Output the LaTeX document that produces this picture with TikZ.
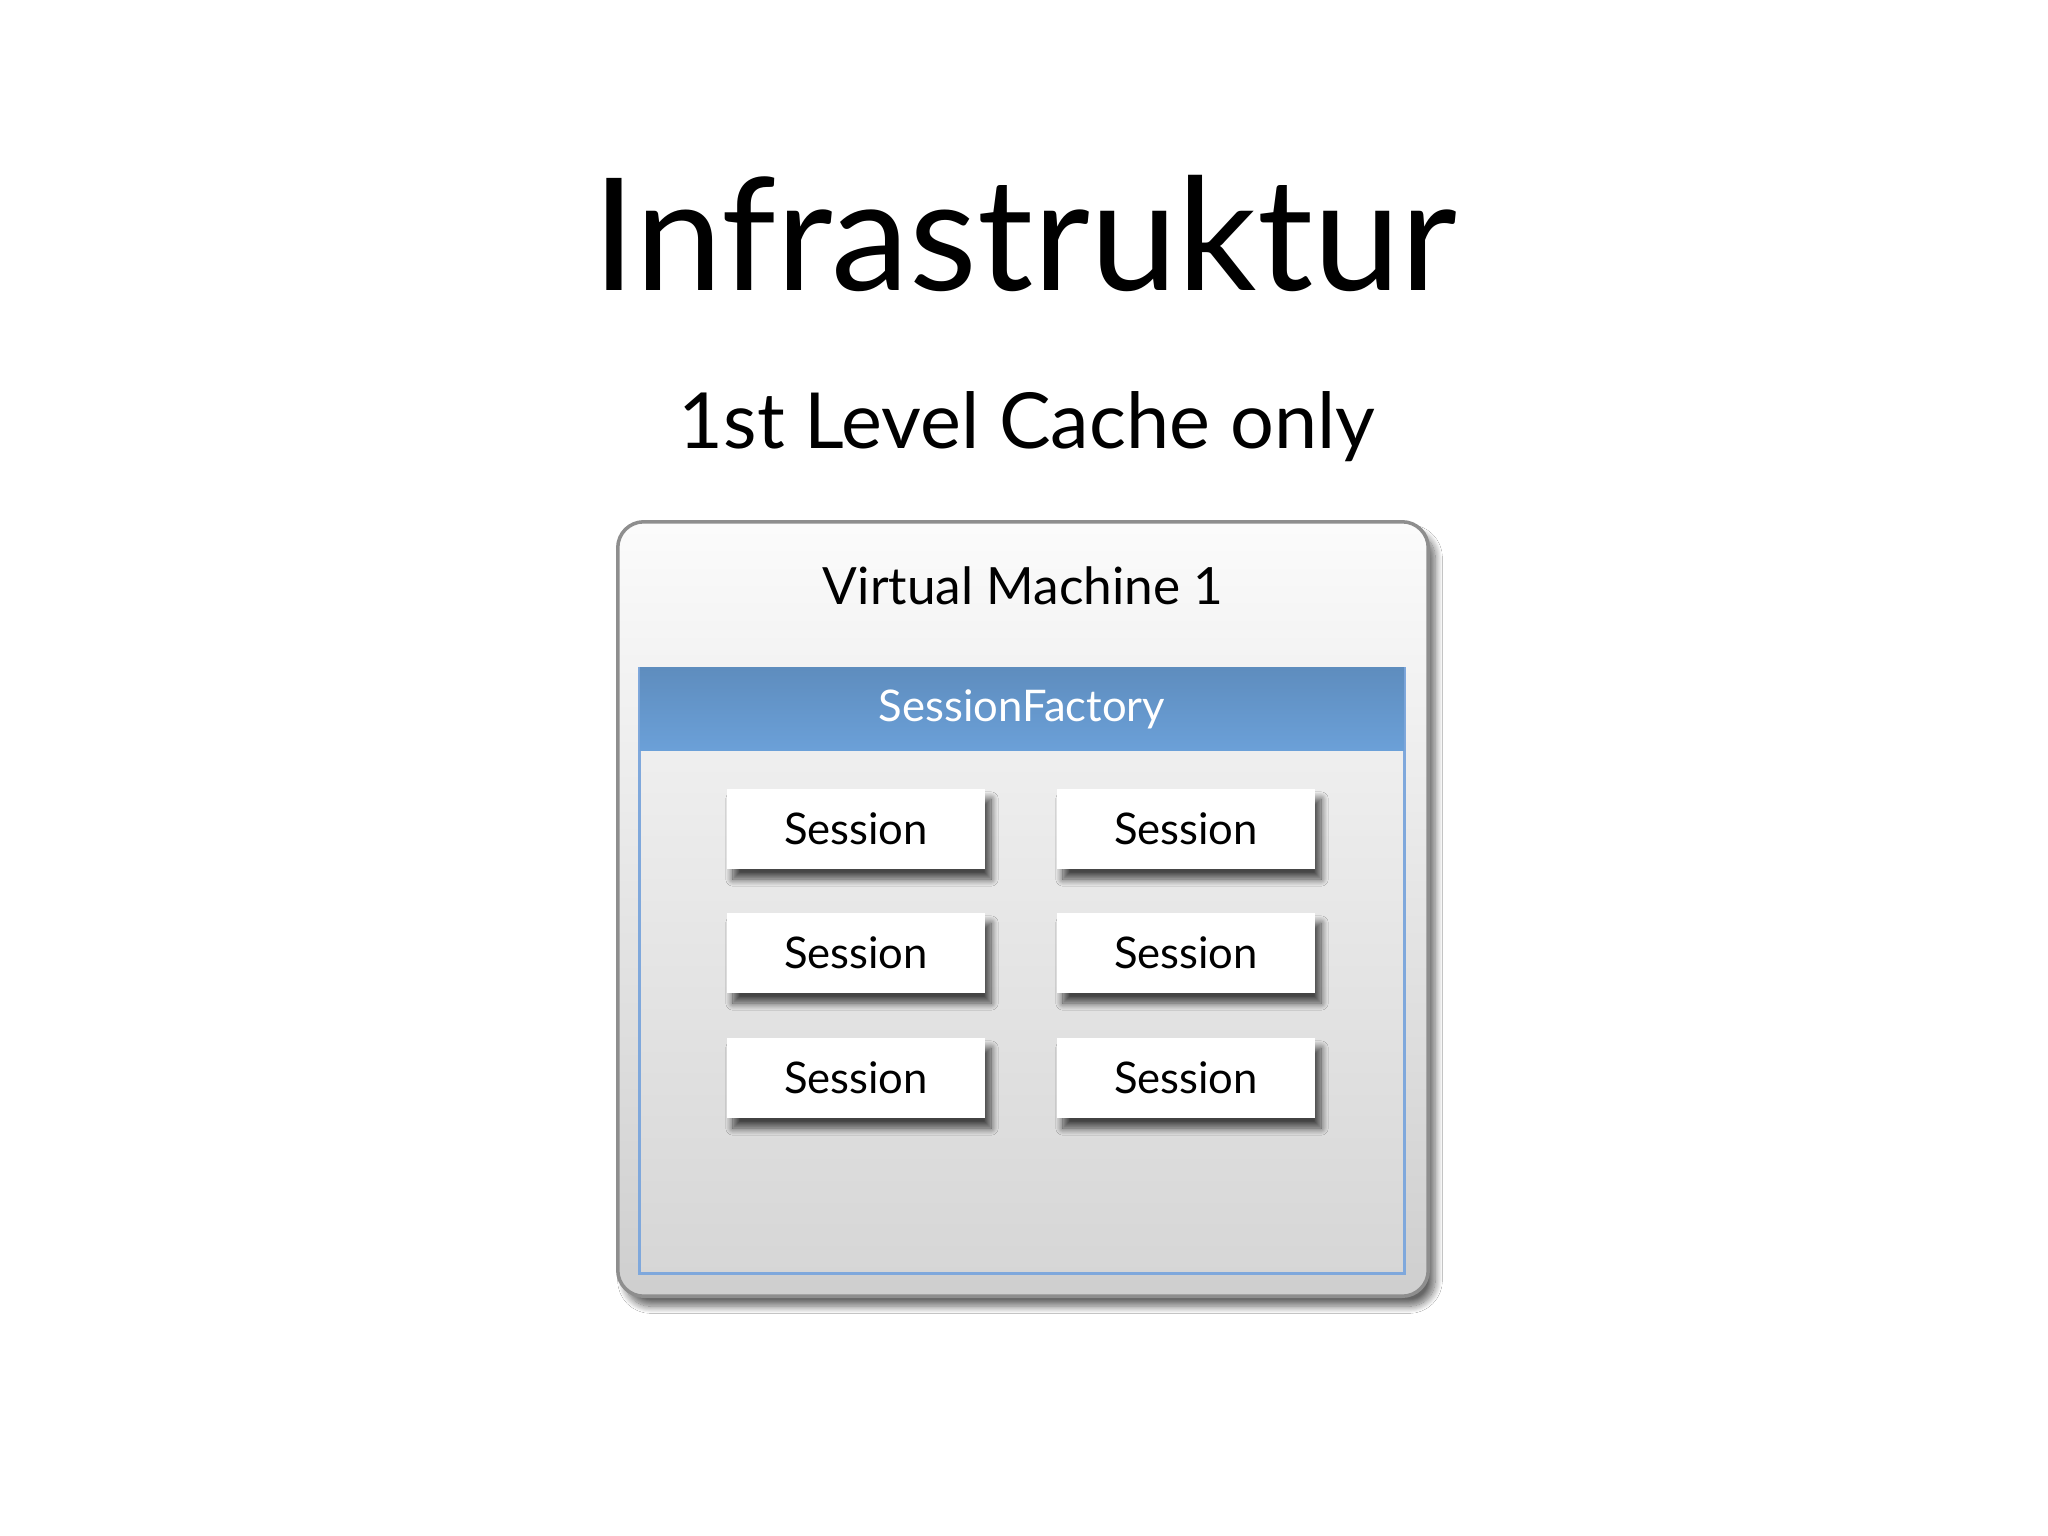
\documentclass[tikz,border=0pt]{standalone}
\usepackage{fontspec}
\setmainfont{Lato}
\usetikzlibrary{shadows.blur}
\definecolor{vmborder}{HTML}{8E8E8E}
\definecolor{factoryblue}{HTML}{6BA0D8}
\definecolor{factoryline}{HTML}{7FA8DC}
\tikzset{%
    vmbox/.style={draw=vmborder, line width=1pt, rounded corners=0.26cm,
        top color=white!97!gray, bottom color=gray!38,
        minimum width=8.1cm, minimum height=7.74cm,
        blur shadow={shadow xshift=0.7mm, shadow yshift=-1mm, shadow opacity=60, shadow blur steps=14}},
    factorybox/.style={draw=factoryline, line width=0.9pt,
        top color=gray!10, bottom color=gray!32,
        minimum width=7.64cm, minimum height=6.04cm},
    factoryhead/.style={top color=factoryblue!88!black, bottom color=factoryblue,
        minimum width=7.64cm, minimum height=0.82cm, text=white,
        font=\fontsize{12.4}{15}\selectfont},
    sessionbox/.style={fill=white, minimum width=2.58cm, minimum height=0.8cm,
        font=\fontsize{12.4}{15}\selectfont,
        blur shadow={shadow xshift=0.6mm, shadow yshift=-1mm, shadow opacity=70, shadow blur steps=12}}
}

\begin{document}
\begin{tikzpicture}[x=0.01cm, y=-0.01cm]
    \useasboundingbox[fill=white] (0,0) rectangle (2048,1536);

    % titles
    \node[anchor=base, font=\fontsize{44.5}{52}\selectfont] (title) at (1025,290) {Infrastruktur};
    \node[anchor=base, font=\fontsize{22}{26}\selectfont] (subtitle) at (1027,448) {1st Level Cache only};

    % virtual machine
    \node[vmbox] (vm) at (1023,909) {};
    \node[anchor=base, font=\fontsize{14.6}{18}\selectfont] (vmlabel) at (1023,604) {Virtual Machine 1};

    % session factory
    \node[factorybox] (factory) at (1022,971) {};
    \node[factoryhead] (head) at (1022,709) {SessionFactory};

    % sessions
    \node[sessionbox] (s11) at (856,829) {Session};
    \node[sessionbox] (s12) at (1186,829) {Session};
    \node[sessionbox] (s21) at (856,953) {Session};
    \node[sessionbox] (s22) at (1186,953) {Session};
    \node[sessionbox] (s31) at (856,1078) {Session};
    \node[sessionbox] (s32) at (1186,1078) {Session};
\end{tikzpicture}
\end{document}
